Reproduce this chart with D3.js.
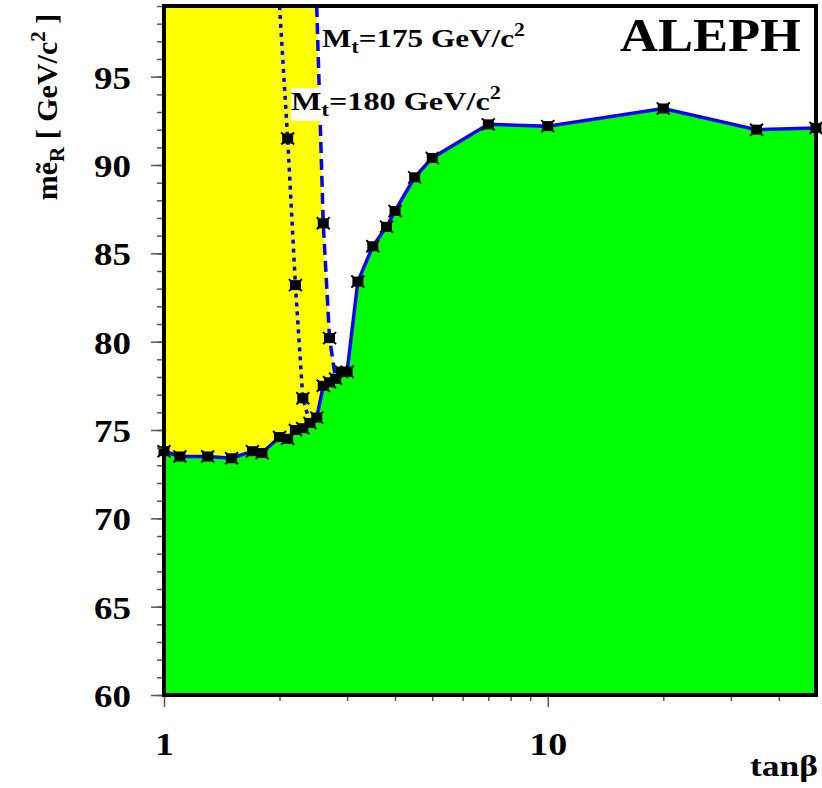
<!DOCTYPE html>
<html><head><meta charset="utf-8">
<script src="https://cdn.jsdelivr.net/npm/d3@7"></script>
<style>body{margin:0;background:#fff}text{font-family:"Liberation Serif","Times New Roman",serif;font-weight:bold}</style>
</head><body>
<svg id="c" width="822" height="788"></svg>
<script>
// ---- data ----
const limitTanb = [1,1.1,1.3,1.5,1.7,1.8,2.0,2.1,2.2,2.3,2.4,2.5,2.6,2.7,2.8,2.9,3.0,3.2,3.5,3.8,4.0,4.5,5.0,7,10,20,35,50];
const limitMass = [73.8,73.5,73.5,73.4,73.8,73.7,74.6,74.5,75.0,75.1,75.4,75.7,77.5,77.7,77.9,78.3,78.3,83.4,85.4,86.5,87.4,89.3,90.4,92.3,92.2,93.2,92.0,92.1];
const mt175Tanb = [2.5,2.6,2.7,2.8];
const mt175Mass = [99,86.7,80.2,77.9];
const mt175Marked = [false,true,true,false];
const mt180Tanb = [2.0,2.1,2.2,2.3,2.4];
const mt180Mass = [99,91.5,83.2,76.8,75.4];
const mt180Marked = [false,true,true,true,false];
const yMajorTicks = [60,65,70,75,80,85,90,95];
const yMinorTicks = d3.range(60,100,1);
const xMajorTicks = [1,10];
const xMinorTicks = [2,3,4,5,6,7,8,9,20,30,40];
const xDomain = [1,50];
const yDomain = [60,99];

// ---- layout ----
const svg = d3.select("#c");
const L=164,R=816,T=6,B=695;
const x = d3.scaleLog().domain(xDomain).range([L,R]);
const y = d3.scaleLinear().domain(yDomain).range([B,T]);

const limitPts = limitTanb.map((t,i)=>[t,limitMass[i]]);
const p175 = mt175Tanb.map((t,i)=>[t,mt175Mass[i]]);
const p180 = mt180Tanb.map((t,i)=>[t,mt180Mass[i]]);
const line = d3.line().x(d=>x(d[0])).y(d=>y(d[1]));

svg.append("clipPath").attr("id","pc").append("rect")
  .attr("x",L).attr("y",T).attr("width",R-L).attr("height",B-T);
const g = svg.append("g").attr("clip-path","url(#pc)");

// yellow region
const lastT = mt175Tanb[mt175Tanb.length-1];
const yellow = [[xDomain[0],yDomain[1]], ...p175,
  ...limitPts.filter(d=>d[0]<lastT).reverse()];
g.append("path").attr("d",line(yellow)+"Z").attr("fill","#ffff00");

// green region
const green = [[xDomain[0],yDomain[0]], ...limitPts, [xDomain[1],yDomain[0]]];
g.append("path").attr("d",line(green)+"Z").attr("fill","#00ff00");

// white label box for Mt=180
svg.append("rect").attr("x",291).attr("y",88).attr("width",212).attr("height",33).attr("fill","#fff");

// lines
g.append("path").attr("d",line(p180)).attr("fill","none").attr("stroke","#0000ff")
  .attr("stroke-width",3.5).attr("stroke-dasharray","4,5");
g.append("path").attr("d",line(p175)).attr("fill","none").attr("stroke","#0000ff")
  .attr("stroke-width",3.5).attr("stroke-dasharray","11,6");
g.append("path").attr("d",line(limitPts)).attr("fill","none").attr("stroke","#0000ff")
  .attr("stroke-width",3.5);

// markers
const marks = [...limitPts, ...p175.filter((d,i)=>mt175Marked[i]), ...p180.filter((d,i)=>mt180Marked[i])];
const mg = svg.append("g");
marks.forEach(d=>{
  const cx=x(d[0]), cy=y(d[1]);
  mg.append("rect").attr("x",cx-5.5).attr("y",cy-5).attr("width",11).attr("height",10).attr("fill","#000");
  mg.append("path").attr("d",`M${cx-6.5},${cy-6}L${cx+6.5},${cy+6}M${cx+6.5},${cy-6}L${cx-6.5},${cy+6}`)
    .attr("stroke","#000").attr("stroke-width",2);
});

// axes
const yMaj = d3.axisLeft(y).tickValues(yMajorTicks).tickSize(13).tickFormat(d3.format("d"));
const yMin = d3.axisLeft(y).tickValues(yMinorTicks).tickSize(7).tickFormat("");
const xMaj = d3.axisBottom(x).tickValues(xMajorTicks).tickSize(12).tickFormat(d3.format("d"));
const xMin = d3.axisBottom(x).tickValues(xMinorTicks).tickSize(6).tickFormat("");
function styleAxis(a){
  a.select(".domain").remove();
  a.attr("font-family",null).attr("font-size",null);
  a.selectAll(".tick line").attr("stroke","#555").attr("stroke-width",1.5);
}
const ay1 = svg.append("g").attr("transform",`translate(${L},0)`).call(yMin); styleAxis(ay1);
const ay2 = svg.append("g").attr("transform",`translate(${L},0)`).call(yMaj); styleAxis(ay2);
const ax1 = svg.append("g").attr("transform",`translate(0,${B})`).call(xMin); styleAxis(ax1);
const ax2 = svg.append("g").attr("transform",`translate(0,${B})`).call(xMaj); styleAxis(ax2);
ay2.selectAll(".tick text").attr("font-size",32).attr("fill","#000")
  .attr("text-anchor","end").attr("x",-33).attr("dy","0.36em")
  .attr("textLength",37).attr("lengthAdjust","spacingAndGlyphs");
ax2.selectAll(".tick text").attr("font-size",32).attr("fill","#000")
  .attr("y",37).attr("dy","0.71em");
ax2.selectAll(".tick text").each(function(d){ const s=String(d); d3.select(this).attr("textLength",s.length*19).attr("lengthAdjust","spacingAndGlyphs"); });

// frame
svg.append("rect").attr("x",L).attr("y",T).attr("width",R-L).attr("height",B-T)
  .attr("fill","none").attr("stroke","#000").attr("stroke-width",4);

// texts
function label(xp,yp,w,fs,parts){
  const t=svg.append("text").attr("font-size",fs);
  parts.forEach(p=>{
    const ts=t.append("tspan").text(p.t);
    if(p.fs) ts.attr("font-size",p.fs);
    if(p.dy) ts.attr("dy",p.dy);
  });
  const cw=t.node().getComputedTextLength();
  t.attr("transform",`translate(${xp},${yp}) scale(${w/cw},1)`);
  return t;
}
label(620,51,181,46,[{t:"ALEPH"}]);
label(322,47,203,26,[{t:"M"},{t:"t",fs:18,dy:6},{t:"=175 GeV/c",dy:-6},{t:"2",fs:18,dy:-11}]);
label(291,110,210,26,[{t:"M"},{t:"t",fs:18,dy:6},{t:"=180 GeV/c",dy:-6},{t:"2",fs:18,dy:-11}]);
label(750,776,68,29,[{t:"tanβ"}]);

// y-axis title
const yt = svg.append("text").attr("transform","translate(57,107) rotate(-90)")
  .attr("text-anchor","middle").attr("font-size",30);
yt.append("tspan").text("mẽ");
yt.append("tspan").text("R").attr("font-size",21).attr("dy",7);
yt.append("tspan").text(" [ GeV/c").attr("dy",-7);
yt.append("tspan").text("2").attr("font-size",21).attr("dy",-12);
yt.append("tspan").text(" ]").attr("dy",12);
</script>
</body></html>
